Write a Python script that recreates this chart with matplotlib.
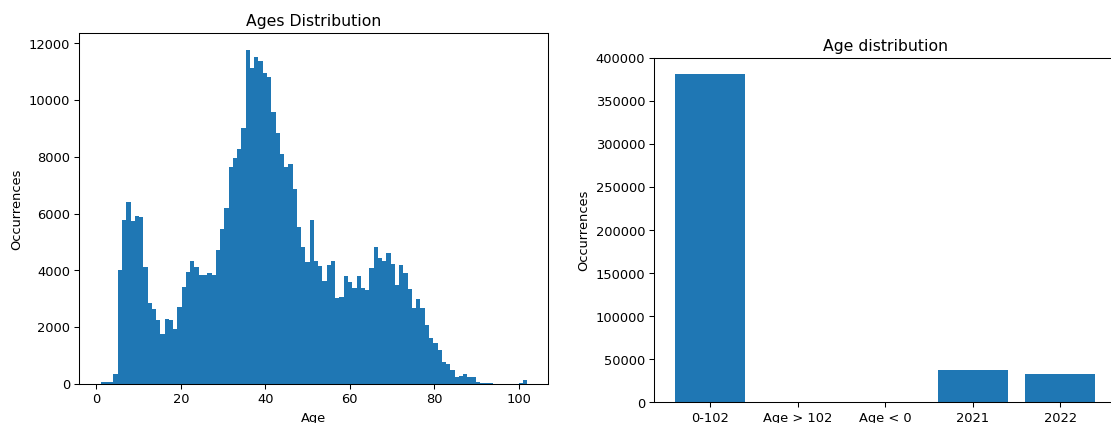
import numpy as np
from matplotlib import pyplot as plt

# histogram of ages: 100 bins from 1 to 102, counts
age_min, age_max = 1, 102
age_counts = [
    70, 70, 70, 350, 4020, 5790, 6410, 5750, 5930, 5880,
    4120, 2850, 2650, 2250, 1750, 2290, 2250, 1920, 2720, 3410,
    3950, 4330, 4120, 3850, 3850, 3910, 3850, 4730, 5460, 6190,
    7640, 7970, 8270, 9020, 11770, 11140, 11530, 11380, 10940, 10800,
    9580, 8830, 8090, 7640, 7760, 6860, 5520, 4820, 4300, 5790,
    4340, 4140, 3640, 4190, 4340, 3020, 3080, 3790, 3580, 3380,
    3790, 3380, 3320, 4080, 4820, 4420, 4340, 4610, 4220, 3490,
    4190, 3910, 3350, 2690, 2990, 2690, 2080, 1610, 1460, 1180,
    790, 690, 490, 240, 290, 340, 260, 240, 80, 40,
    40, 40, 10, 5, 0, 0, 0, 0, 50, 150,
]

# category bar chart
groups = ['0-102', 'Age > 102', 'Age < 0', '2021', '2022']
group_counts = [381000, 0, 0, 37500, 33000]

dpi = 94
fig = plt.figure(figsize=(1111.3 / dpi, 423.3 / dpi), dpi=dpi)

ax1 = fig.add_axes([0.0714, 0.0922, 0.4221, 0.829])
edges = np.linspace(age_min, age_max, len(age_counts) + 1)
ax1.hist(edges[:-1], bins=edges, weights=age_counts)
ax1.set_title('Ages Distribution')
ax1.set_xlabel('Age')
ax1.set_ylabel('Occurrences')

ax2 = fig.add_axes([0.5887, 0.0489, 0.4158, 0.8132])
ax2.bar(groups, group_counts)
ax2.set_title('Age distribution')
ax2.set_ylabel('Occurrences')

fig.savefig('out.png', dpi=dpi)
